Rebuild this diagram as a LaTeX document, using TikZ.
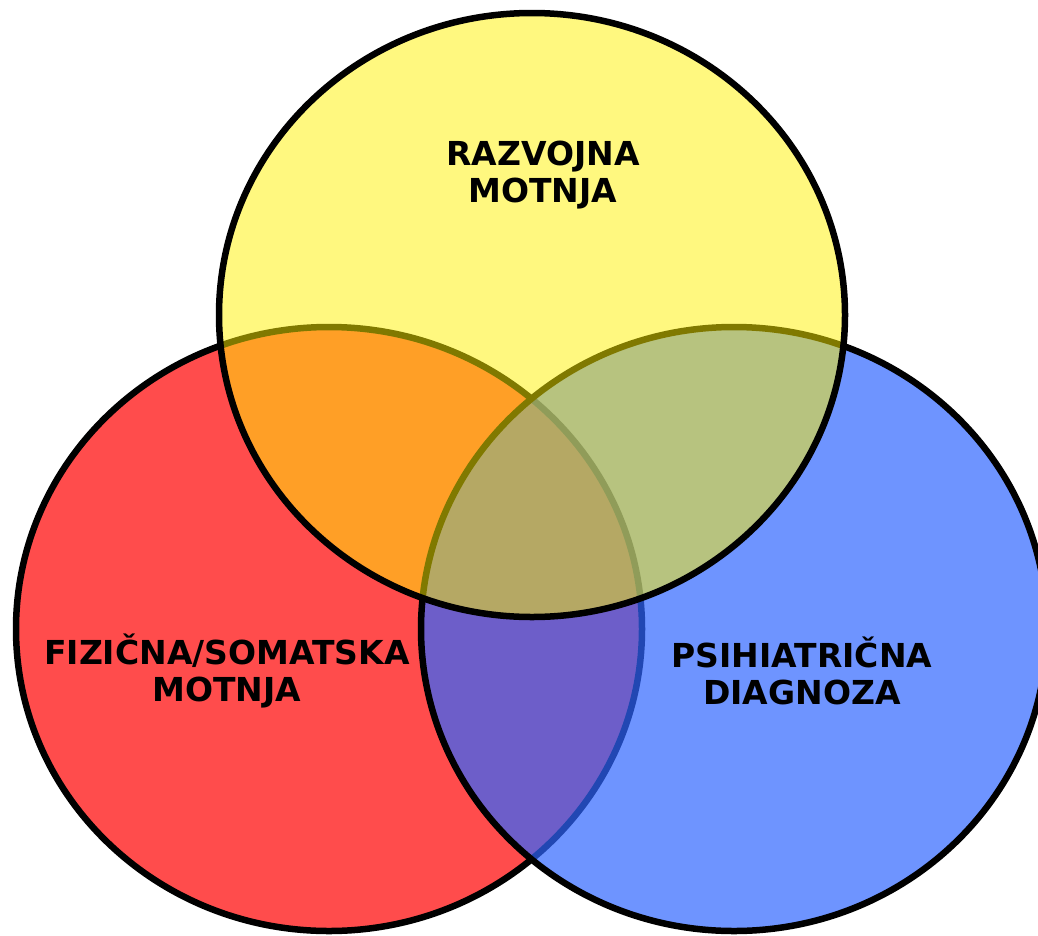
\documentclass[tikz,border=0pt]{standalone}
\usepackage{fontspec}
\setmainfont{DejaVu Sans}

\definecolor{vennblue}{RGB}{48,102,255}
\tikzset{
  lbl/.style={align=center, font=\bfseries\fontsize{33}{37.5}\selectfont, inner sep=0pt},
}

\begin{document}
\begin{tikzpicture}[x=1pt, y=-1pt]
        \useasboundingbox (0,0) rectangle (1038,935);

        % red, blue, then yellow on top
        \foreach \cx/\cy/\col/\op in {329/629/red/0.7, 734/629/vennblue/0.7, 532/315/yellow/0.5}
            {
                \draw[line width=6.5pt, fill=\col, fill opacity=\op]
                (\cx,\cy) ellipse [x radius=313, y radius=302];
            }

        \node[lbl] (razvojna) at (543,175) {RAZVOJNA\\MOTNJA};
        \node[lbl] (fizicna) at (227,671) {FIZIČNA/SOMATSKA\\MOTNJA};
        \node[lbl] (psih) at (802,671) {PSIHIATRIČNA\\DIAGNOZA};
    \end{tikzpicture}
\end{document}
